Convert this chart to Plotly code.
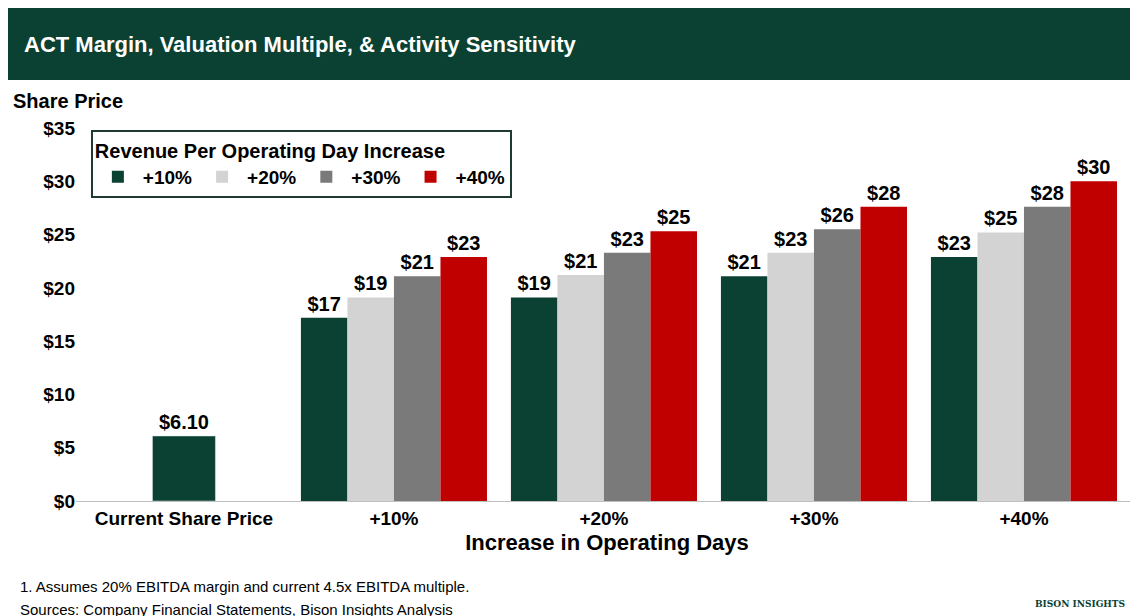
import plotly.graph_objects as go

groups = ["Current Share Price", "+10%", "+20%", "+30%", "+40%"]
current_price = [6.10]
series_names = ["+10%", "+20%", "+30%", "+40%"]
series_values = [
    [17.2, 19.1, 21.1, 22.9],
    [19.1, 21.2, 23.3, 25.2],
    [21.1, 23.3, 25.5, 27.6],
    [22.9, 25.3, 27.6, 30.0],
]
colors = ["#0B4132", "#D3D3D3", "#7A7A7A", "#C00000"]
yticks = [0, 5, 10, 15, 20, 25, 30, 35]

font = "Liberation Sans, Arial, sans-serif"
fig = go.Figure()
fig.add_bar(x=[0], y=current_price, width=0.3, marker_color=colors[0], showlegend=False,
            text=["<b>$%.2f</b>" % v for v in current_price], textposition="outside",
            textfont=dict(size=20, color="black", family=font), cliponaxis=False)
w = 0.2215
for i, name in enumerate(series_names):
    fig.add_bar(x=[1, 2, 3, 4], y=series_values[i], name="<b>%s</b>" % name, width=w,
                offset=-0.443 + i * w, marker_color=colors[i], marker_line_width=0,
                text=["<b>$%d</b>" % round(v) for v in series_values[i]], textposition="outside",
                textfont=dict(size=20, color="black", family=font), cliponaxis=False)

fig.update_layout(
    width=1138, height=616, barmode="overlay", plot_bgcolor="white", paper_bgcolor="white",
    margin=dict(l=68, r=8, t=120, b=123),
    font=dict(family=font, color="black"),
    xaxis=dict(range=[-0.514, 4.543], tickvals=list(range(5)), ticktext=["<b>%s</b>" % g for g in groups],
               tickfont=dict(size=19), showline=True, linecolor="#BFBFBF", ticks="",
               title=dict(text="<b>Increase in Operating Days</b>", font=dict(size=22), standoff=6)),
    yaxis=dict(range=[0, 35], tickvals=yticks, ticktext=["<b>$%d</b>" % v for v in yticks],
               tickfont=dict(size=19), showgrid=False, zeroline=False),
    legend=dict(orientation="h", x=0.014, y=0.995, xanchor="left", yanchor="top",
                bordercolor="#1F3A33", borderwidth=2, bgcolor="white",
                title=dict(text="<b>Revenue Per Operating Day Increase</b>", side="top", font=dict(size=20)),
                font=dict(size=19), itemwidth=40, traceorder="normal"),
    shapes=[dict(type="rect", xref="paper", yref="paper", x0=-0.065, x1=1.008, y0=1.129, y1=1.33,
                 fillcolor="#0B4132", line_width=0, layer="below")],
    annotations=[
        dict(text="<b>ACT Margin, Valuation Multiple, & Activity Sensitivity</b>", xref="paper", yref="paper",
             x=-0.051, y=1.225, xanchor="left", yanchor="middle", showarrow=False,
             font=dict(size=22, color="white")),
        dict(text="<b>Share Price</b>", xref="paper", yref="paper", x=-0.061, y=1.072,
             xanchor="left", yanchor="middle", showarrow=False, font=dict(size=20)),
        dict(text="1. Assumes 20% EBITDA margin and current 4.5x EBITDA multiple.", xref="paper", yref="paper",
             x=-0.055, y=-0.228, xanchor="left", yanchor="middle", showarrow=False, font=dict(size=15)),
        dict(text="Sources: Company Financial Statements, Bison Insights Analysis", xref="paper", yref="paper",
             x=-0.055, y=-0.292, xanchor="left", yanchor="middle", showarrow=False, font=dict(size=15)),
        dict(text="<b>BISON INSIGHTS</b>", xref="paper", yref="paper", x=0.99, y=-0.275,
             xanchor="right", yanchor="middle", showarrow=False, font=dict(size=9, color="#0B4132", family="DejaVu Serif")),
    ],
)
fig.write_html("out.html")
